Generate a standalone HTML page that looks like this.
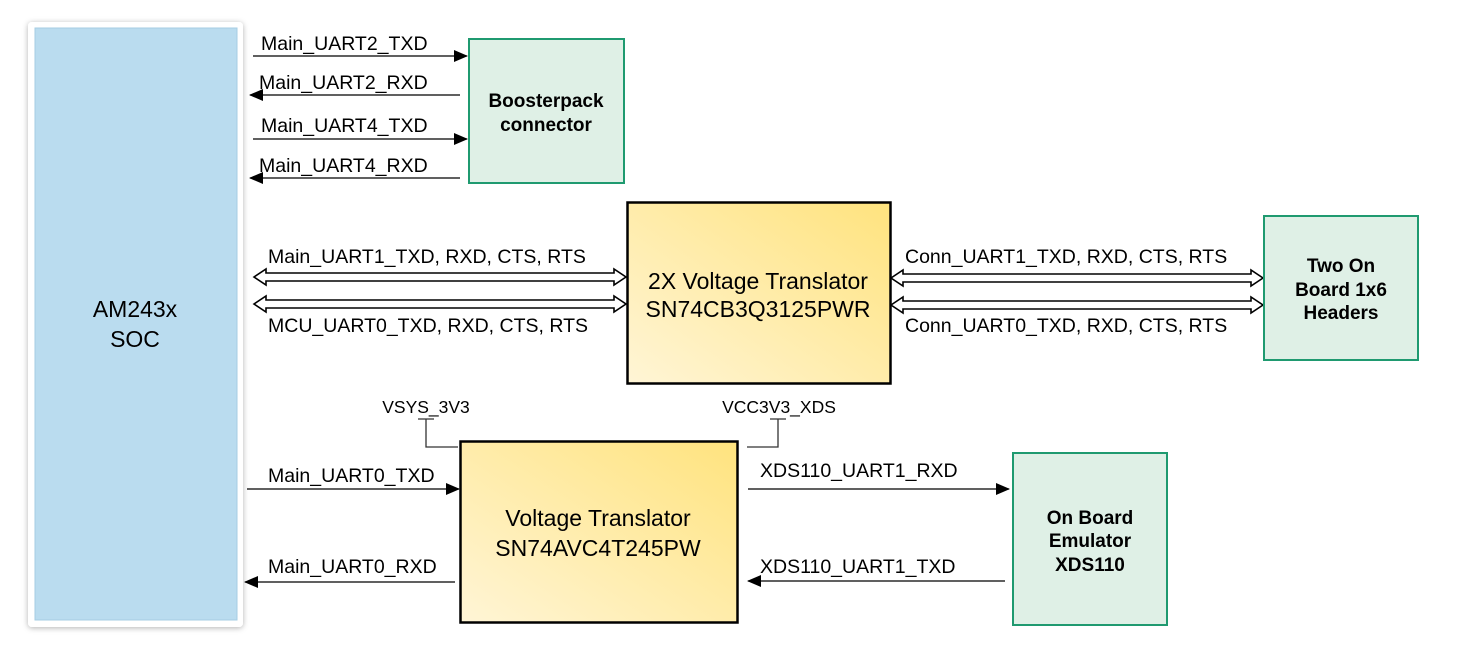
<!DOCTYPE html>
<html><head><meta charset="utf-8"><style>
html,body{margin:0;padding:0;background:#fff;}
svg{display:block;}
text{font-family:"Liberation Sans",Arial,sans-serif;fill:#000;}
.l{font-size:19.5px;}
.b{font-size:19px;font-weight:bold;}
.c{font-size:23px;}
</style></head><body>
<svg width="1462" height="655" viewBox="0 0 1462 655" xmlns="http://www.w3.org/2000/svg">
<defs>
<linearGradient id="y" x1="0" y1="1" x2="1" y2="0">
<stop offset="0" stop-color="#fff5d6"/><stop offset="1" stop-color="#ffe37e"/>
</linearGradient>
<filter id="sh" x="-10%" y="-10%" width="120%" height="120%"><feDropShadow dx="0" dy="1" stdDeviation="3" flood-color="#000" flood-opacity="0.3"/></filter>
<marker id="a" markerWidth="14" markerHeight="14" refX="13" refY="6" orient="auto" markerUnits="userSpaceOnUse"><path d="M0,0 L14,6 L0,12 z" fill="#000"/></marker>
</defs>
<!-- SOC -->
<rect x="28" y="22" width="215" height="605" rx="4" fill="#fff" filter="url(#sh)"/>
<rect x="35" y="28" width="202" height="592" fill="#badcef" stroke="#a6cde3" stroke-width="1"/>
<text class="c" x="135" y="317" text-anchor="middle">AM243x</text>
<text class="c" x="135" y="347" text-anchor="middle">SOC</text>
<!-- Boosterpack -->
<rect x="469" y="39" width="155" height="144" fill="#dff0e6" stroke="#1f9a70" stroke-width="2"/>
<text class="b" x="546" y="107" text-anchor="middle">Boosterpack</text>
<text class="b" x="546" y="131" text-anchor="middle">connector</text>
<g stroke="#000" stroke-width="1.3">
<line x1="253" y1="56" x2="467" y2="56" marker-end="url(#a)"/>
<line x1="460" y1="95" x2="250" y2="95" marker-end="url(#a)"/>
<line x1="253" y1="139" x2="467" y2="139" marker-end="url(#a)"/>
<line x1="460" y1="178" x2="250" y2="178" marker-end="url(#a)"/>
</g>
<text class="l" x="261" y="50">Main_UART2_TXD</text>
<text class="l" x="259" y="89">Main_UART2_RXD</text>
<text class="l" x="261" y="132">Main_UART4_TXD</text>
<text class="l" x="259" y="172">Main_UART4_RXD</text>
<!-- 2X translator -->
<rect x="627.5" y="202.5" width="263" height="181" fill="url(#y)" stroke="#000" stroke-width="2.5"/>
<text class="c" x="758" y="289" text-anchor="middle">2X Voltage Translator</text>
<text class="c" x="758" y="317" text-anchor="middle">SN74CB3Q3125PWR</text>
<g fill="#fff" stroke="#000" stroke-width="1.6">
<path d="M254,277 L266,269 L266,273 L614,273 L614,269 L626,277 L614,285 L614,281 L266,281 L266,285 Z"/>
<path d="M254,304 L266,296 L266,300 L614,300 L614,296 L626,304 L614,312 L614,308 L266,308 L266,312 Z"/>
<path d="M891,278 L903,270 L903,274 L1251,274 L1251,270 L1263,278 L1251,286 L1251,282 L903,282 L903,286 Z"/>
<path d="M891,305 L903,297 L903,301 L1251,301 L1251,297 L1263,305 L1251,313 L1251,309 L903,309 L903,313 Z"/>
</g>
<text class="l" x="268" y="263">Main_UART1_TXD, RXD, CTS, RTS</text>
<text class="l" x="268" y="332">MCU_UART0_TXD, RXD, CTS, RTS</text>
<text class="l" x="905" y="263">Conn_UART1_TXD, RXD, CTS, RTS</text>
<text class="l" x="905" y="332">Conn_UART0_TXD, RXD, CTS, RTS</text>
<!-- Two on board -->
<rect x="1264" y="216" width="154" height="144" fill="#dff0e6" stroke="#1f9a70" stroke-width="2"/>
<text class="b" x="1341" y="272" text-anchor="middle">Two On</text>
<text class="b" x="1341" y="296" text-anchor="middle">Board 1x6</text>
<text class="b" x="1341" y="319" text-anchor="middle">Headers</text>
<!-- Voltage translator -->
<rect x="460.5" y="441.5" width="277" height="181" fill="url(#y)" stroke="#000" stroke-width="2.5"/>
<text class="c" x="598" y="526" text-anchor="middle">Voltage Translator</text>
<text class="c" x="598" y="556" text-anchor="middle">SN74AVC4T245PW</text>
<text x="426" y="413" text-anchor="middle" style="font-size:17.5px">VSYS_3V3</text>
<text x="779" y="413" text-anchor="middle" style="font-size:17.5px">VCC3V3_XDS</text>
<g stroke="#333" stroke-width="1.3" fill="none">
<path d="M418,419 L434,419 M426,419 L426,447 L458,447"/>
<path d="M770,419 L786,419 M778,419 L778,447 L747,447"/>
</g>
<g stroke="#000" stroke-width="1.3">
<line x1="247" y1="489" x2="459" y2="489" marker-end="url(#a)"/>
<line x1="455" y1="582" x2="245" y2="582" marker-end="url(#a)"/>
<line x1="748" y1="489" x2="1009" y2="489" marker-end="url(#a)"/>
<line x1="1005" y1="581" x2="748" y2="581" marker-end="url(#a)"/>
</g>
<text class="l" x="268" y="482">Main_UART0_TXD</text>
<text class="l" x="268" y="573">Main_UART0_RXD</text>
<text class="l" x="760" y="477">XDS110_UART1_RXD</text>
<text class="l" x="760" y="573">XDS110_UART1_TXD</text>
<!-- Emulator -->
<rect x="1013" y="453" width="154" height="172" fill="#dff0e6" stroke="#1f9a70" stroke-width="2"/>
<text class="b" x="1090" y="524" text-anchor="middle">On Board</text>
<text class="b" x="1090" y="547" text-anchor="middle">Emulator</text>
<text class="b" x="1090" y="571" text-anchor="middle">XDS110</text>
</svg>
</body></html>
